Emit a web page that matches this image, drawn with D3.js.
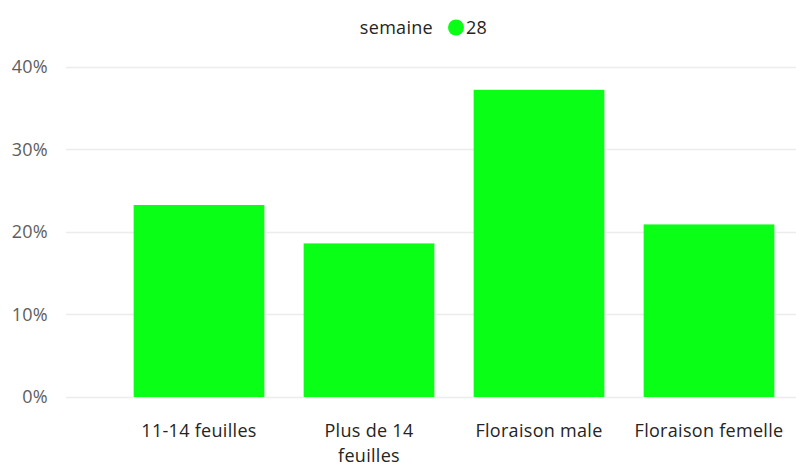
<!DOCTYPE html>
<html><head><meta charset="utf-8">
<script src="https://cdn.jsdelivr.net/npm/d3@7"></script>
<style>body{margin:0;background:#fff;} text{font-family:"Open Sans","Noto Sans",sans-serif;letter-spacing:0.3px;}</style>
</head><body><svg id="c" width="796" height="467"></svg>
<script>
const categories = ["11-14 feuilles", "Plus de 14 feuilles", "Floraison male", "Floraison femelle"];
const values = [0.2325, 0.186, 0.372, 0.209];
const yTicks = [0, 0.1, 0.2, 0.3, 0.4];
const legendTitle = "semaine";
const seriesName = "28";
const barColor = "#0AFF16";
const FS = "18px";

const svg = d3.select("#c");
const y = d3.scaleLinear().domain([0, 0.4]).range([397, 66.7]);
const x = d3.scaleBand().domain(categories).range([114, 794]).paddingInner(0.2312).paddingOuter(0.1156);

// gridlines
svg.append("g").selectAll("line").data(yTicks).join("line")
  .attr("x1", 66).attr("x2", 796)
  .attr("y1", d => Math.round(y(d)) + 0.5).attr("y2", d => Math.round(y(d)) + 0.5)
  .attr("stroke", "#ececec").attr("stroke-width", 1.5);

// y axis labels
const yAxis = d3.axisLeft(y).tickValues(yTicks).tickFormat(d3.format(".0%")).tickSize(0).tickPadding(0);
const ya = svg.append("g").attr("transform", "translate(48,0)").call(yAxis);
ya.select(".domain").remove();
ya.selectAll("text").attr("fill", "#605e5c").style("font-size", FS).style("font-family", '"Open Sans","Noto Sans",sans-serif');

// bars
svg.append("g").selectAll("rect").data(values).join("rect")
  .attr("x", (d, i) => x(categories[i]))
  .attr("width", x.bandwidth())
  .attr("y", d => y(d))
  .attr("height", d => y(0) - y(d))
  .attr("fill", barColor);

// x axis labels with wrapping
const xAxis = d3.axisBottom(x).tickSize(0).tickPadding(0);
const xa = svg.append("g").attr("transform", "translate(0,424)").call(xAxis);
xa.select(".domain").remove();
xa.selectAll("text").attr("fill", "#252423").style("font-size", FS)
  .style("font-family", '"Open Sans","Noto Sans",sans-serif')
  .each(function(d) {
    const t = d3.select(this);
    const maxW = 151;
    t.text(d);
    if (this.getComputedTextLength() > maxW) {
      const words = d.split(" ");
      t.text(null);
      let line = [], lines = [];
      const probe = t.append("tspan");
      words.forEach(w => {
        line.push(w);
        probe.text(line.join(" "));
        if (probe.node().getComputedTextLength() > 120 && line.length > 1) {
          line.pop(); lines.push(line.join(" ")); line = [w];
        }
      });
      lines.push(line.join(" "));
      probe.remove();
      lines.forEach((l, i) => t.append("tspan").attr("x", 0).attr("dy", i === 0 ? "0.71em" : "1.42em").text(l));
    }
  });

// legend
const lg = svg.append("g");
lg.append("text").attr("x", 433).attr("y", 34).attr("text-anchor", "end")
  .attr("fill", "#252423").style("font-size", FS).text(legendTitle);
lg.append("circle").attr("cx", 456).attr("cy", 27.5).attr("r", 8).attr("fill", barColor);
lg.append("text").attr("x", 466).attr("y", 34).attr("fill", "#252423").style("font-size", FS).text(seriesName);
</script></body></html>
